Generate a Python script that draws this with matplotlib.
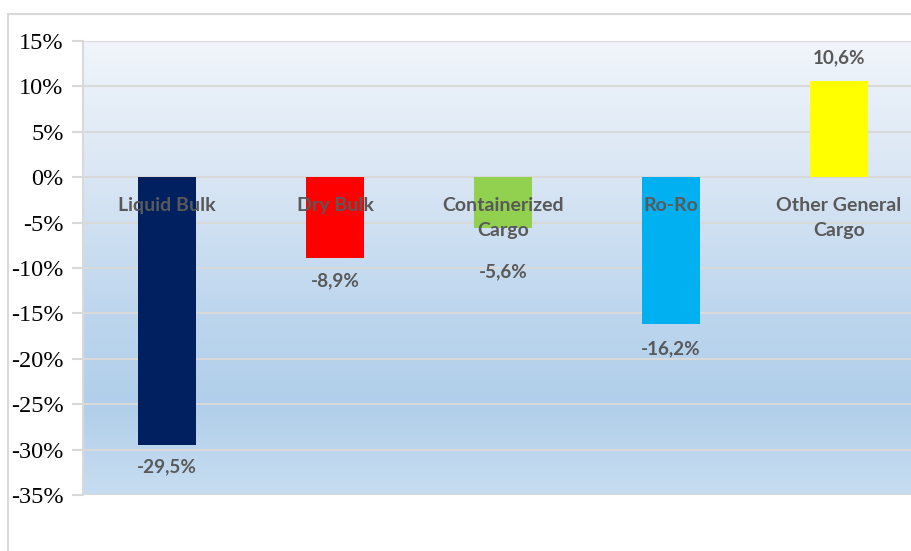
import numpy as np
import matplotlib.pyplot as plt
from matplotlib.colors import LinearSegmentedColormap
from matplotlib.patches import Rectangle

categories = ["Liquid Bulk", "Dry Bulk", "Containerized\nCargo", "Ro-Ro", "Other General\nCargo"]
values = [-29.5, -8.9, -5.6, -16.2, 10.6]
value_labels = ["-29,5%", "-8,9%", "-5,6%", "-16,2%", "10,6%"]
colors = ["#002060", "#ff0000", "#92d050", "#00b0f0", "#ffff00"]
yticks = [15, 10, 5, 0, -5, -10, -15, -20, -25, -30, -35]

fig = plt.figure(figsize=(9.12, 5.51), dpi=100)
ax = fig.add_axes([83 / 912, 1 - 495 / 551, 1 - 83 / 912, 454 / 551])

# outer chart border
fig.patches.append(Rectangle((8 / 912, -0.05), 1.1, 1 - 14 / 551 + 0.05, transform=fig.transFigure,
                             fill=False, edgecolor="#d9d9d9", linewidth=1.5, zorder=0))

# gradient background of the plot area
grad = LinearSegmentedColormap.from_list("bg", [
    (0.0, "#c7ddf1"), (0.2, "#b1cfea"), (0.4, "#bdd6ee"), (0.7, "#d9e6f4"), (1.0, "#f1f5fb")])
ax.imshow(np.linspace(0, 1, 256).reshape(-1, 1), cmap=grad, aspect="auto", origin="lower",
          extent=[0, 1, 0, 1], transform=ax.transAxes, zorder=0)

ax.set_ylim(-35, 15)
ax.set_xlim(-0.5, (912 - 83) / 168 - 0.5)
ax.set_yticks(yticks)
ax.set_yticklabels([f"{t}%" for t in yticks], family="Liberation Serif", fontsize=17.5, color="#000000")
ax.set_xticks([])
ax.yaxis.grid(True, color="#d9d9d9", linewidth=1.5, zorder=1)
ax.tick_params(axis="y", length=8, width=1.5, color="#d9d9d9", pad=6)
for s in ["top", "right", "bottom"]:
    ax.spines[s].set_visible(False)
ax.spines["left"].set_color("#d9d9d9")
ax.spines["left"].set_linewidth(1.5)
ax.set_axisbelow(True)

x = np.arange(len(categories))
bars = ax.bar(x, values, width=0.35, color=colors, zorder=2)

offsets = [-22, -23, -44, -24, 23]
for xi, v, lab, off in zip(x, values, value_labels, offsets):
    ax.annotate(lab, (xi, v), xytext=(0, off), textcoords="offset pixels", ha="center", va="center",
                family="Lato", fontweight="bold", fontsize=13.6, color="#595959", zorder=3)

for xi, cat in zip(x, categories):
    ax.annotate(cat, (xi, 0), xytext=(0, -20), textcoords="offset pixels", ha="center", va="top",
                family="Lato", fontweight="bold", fontsize=14, color="#595959", linespacing=1.55, zorder=3)

fig.savefig("out.png", dpi=100)
